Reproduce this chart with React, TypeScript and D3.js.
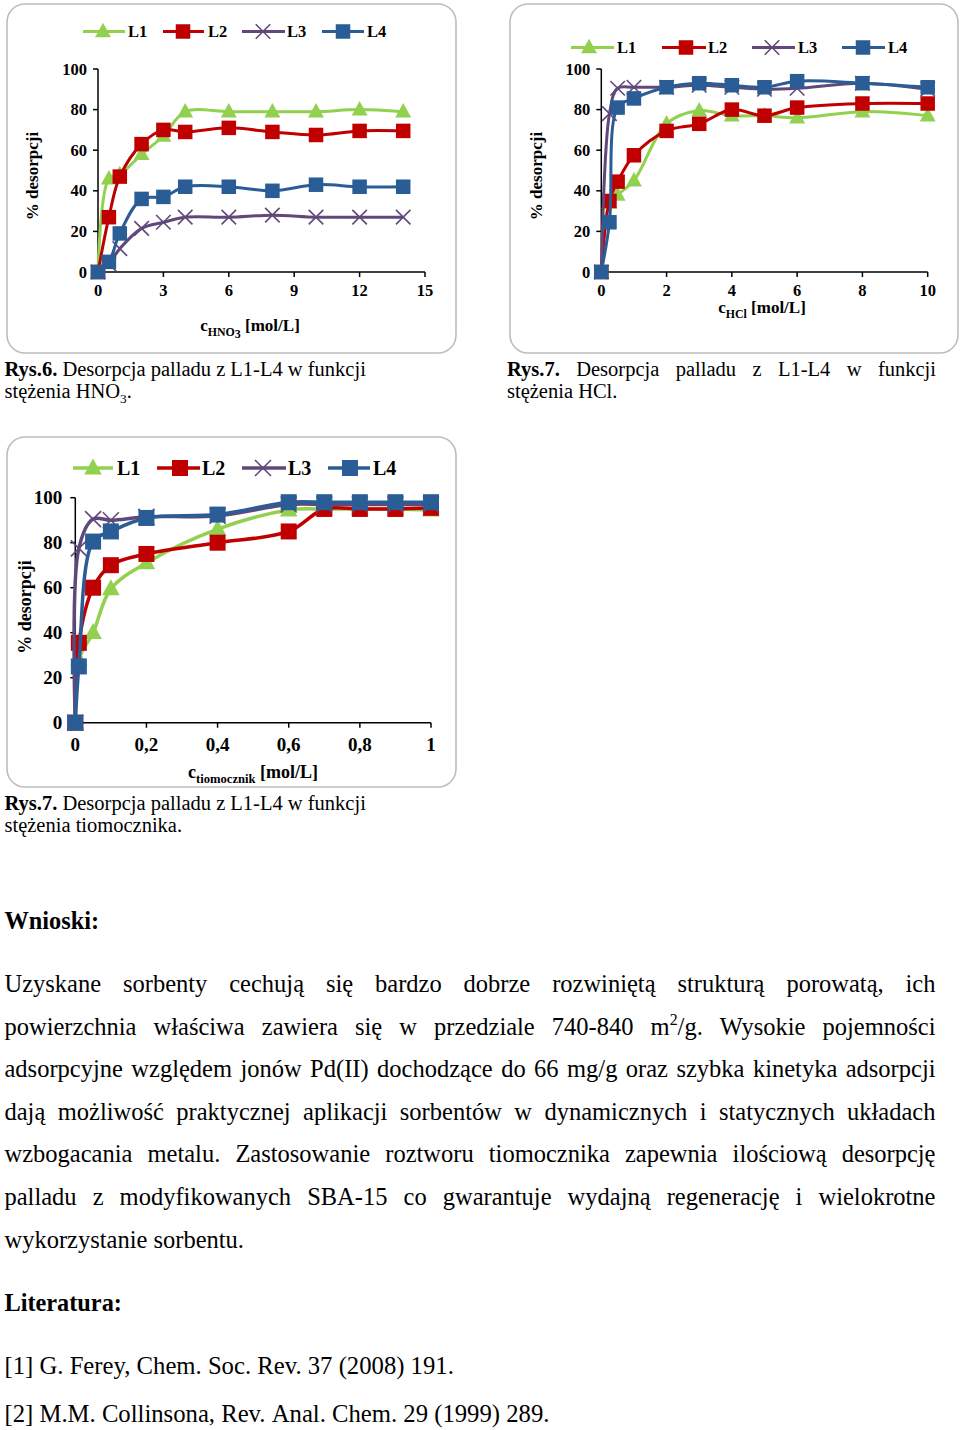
import React from 'react';
import * as d3 from 'd3';

const FONT = "'Liberation Serif', 'Times New Roman', serif";

// ---------- DATA ----------
const seriesNames = ['L1', 'L2', 'L3', 'L4'];
const seriesColors = ['#92D050', '#C00000', '#60497A', '#2A5D96'];
const seriesMarkers = ['triangle', 'square', 'x', 'square'];
const yTicks = [0, 20, 40, 60, 80, 100];

// Rys.6 – HNO3
const hno3X = [0, 0.5, 1, 2, 3, 4, 6, 8, 10, 12, 14];
const hno3L1 = [0, 46, 48, 58, 67, 79, 79, 79, 79, 80, 79];
const hno3L2 = [0, 27, 47, 63, 70, 69, 71, 69, 67.5, 69.5, 69.5];
const hno3L3 = [0, 4, 11.5, 21.5, 24.5, 27, 27, 28, 27, 27, 27];
const hno3L4 = [0, 5, 19, 36, 37, 42, 42, 40, 43, 42, 42];
const hno3Ticks = [0, 3, 6, 9, 12, 15];

// Rys.7 – HCl
const hclX = [0, 0.25, 0.5, 1, 2, 3, 4, 5, 6, 8, 10];
const hclL1 = [0, 34, 38, 45, 73, 79.5, 77, 77, 76, 79, 77];
const hclL2 = [0, 35, 44.5, 57.5, 69.5, 73, 80, 77, 81, 83, 83];
const hclL3 = [0, 78, 90.5, 91, 91, 92, 91, 90, 90.5, 93, 90];
const hclL4 = [0, 24.5, 81, 85.5, 91, 93, 92, 91, 94, 93, 91];
const hclTicks = [0, 2, 4, 6, 8, 10];

// Rys.7 – tiomocznik
const tioX = [0, 0.01, 0.05, 0.1, 0.2, 0.4, 0.6, 0.7, 0.8, 0.9, 1.0];
const tioL1 = [0, 28, 40, 59.5, 71, 86, 94.5, 95, 95, 95, 94.5];
const tioL2 = [0, 35.5, 60, 70, 75, 80, 85, 95, 95, 95, 95.5];
const tioL3 = [0, 77.5, 90.5, 90, 91.5, 92, 97, 97, 97, 97, 97];
const tioL4 = [0, 25, 80.5, 85, 91, 92.5, 98, 98, 98, 98, 98];
const tioTicks = [0, 0.2, 0.4, 0.6, 0.8, 1];

// ---------- TEXT ----------
const caption1 = ['**Rys.6.** Desorpcja palladu z L1-L4 w funkcji', 'stężenia HNO_{3}.'];
const caption2 = ['**Rys.7.** Desorpcja palladu z L1-L4 w funkcji', 'stężenia HCl.'];
const caption3 = ['**Rys.7.** Desorpcja palladu z L1-L4 w funkcji', 'stężenia tiomocznika.'];
const paragraph = [
  'Uzyskane sorbenty cechują się bardzo dobrze rozwiniętą strukturą porowatą, ich',
  'powierzchnia właściwa zawiera się w przedziale 740-840 m^{2}/g. Wysokie pojemności',
  'adsorpcyjne względem jonów Pd(II) dochodzące do 66 mg/g oraz szybka kinetyka adsorpcji',
  'dają możliwość praktycznej aplikacji sorbentów w dynamicznych i statycznych układach',
  'wzbogacania metalu. Zastosowanie roztworu tiomocznika zapewnia ilościową desorpcję',
  'palladu z modyfikowanych SBA-15 co gwarantuje wydajną regenerację i wielokrotne',
  'wykorzystanie sorbentu.',
];
const references = [
  '[1] G. Ferey, Chem. Soc. Rev. 37 (2008) 191.',
  '[2] M.M. Collinsona, Rev. Anal. Chem. 29 (1999) 289.',
];

// ---------- TEXT HELPERS ----------
let _ctx: CanvasRenderingContext2D | null = null;
function measure(text: string, size: number, bold: boolean) {
  if (!_ctx) _ctx = document.createElement('canvas').getContext('2d');
  _ctx!.font = `${bold ? 'bold ' : ''}${size}px 'Liberation Serif'`;
  return _ctx!.measureText(text).width;
}
type Seg = { t: string; b: boolean; kind: 'n' | 'sup' | 'sub' };
function parseWord(w0: string): Seg[] {
  let w = w0;
  let bold = false;
  if (w.startsWith('**') && w.endsWith('**')) {
    bold = true;
    w = w.slice(2, -2);
  }
  const segs: Seg[] = [];
  const re = /(\^\{[^}]*\}|_\{[^}]*\})/g;
  let last = 0;
  let m: RegExpExecArray | null;
  while ((m = re.exec(w))) {
    if (m.index > last) segs.push({ t: w.slice(last, m.index), b: bold, kind: 'n' });
    segs.push({ t: m[0].slice(2, -1), b: bold, kind: m[0][0] === '^' ? 'sup' : 'sub' });
    last = m.index + m[0].length;
  }
  if (last < w.length) segs.push({ t: w.slice(last), b: bold, kind: 'n' });
  return segs;
}

function TextLine(props: { text: string; x: number; y: number; size: number; width?: number; justify?: boolean }) {
  const { text, x, y, size, width = 0, justify = false } = props;
  const words = text.split(' ').map(parseWord);
  const segSize = (s: Seg) => (s.kind === 'n' ? size : size * 0.65);
  const segDy = (s: Seg) => (s.kind === 'sup' ? -size * 0.38 : s.kind === 'sub' ? size * 0.22 : 0);
  const widths = words.map((ws) => ws.reduce((a, s) => a + measure(s.t, segSize(s), s.b), 0));
  const total = widths.reduce((a, b) => a + b, 0);
  const gap = justify && words.length > 1 ? (width - total) / (words.length - 1) : measure(' ', size, false);
  const els: React.ReactNode[] = [];
  let cx = x;
  words.forEach((ws, i) => {
    ws.forEach((s, j) => {
      els.push(
        <text key={`${i}-${j}`} x={cx} y={y + segDy(s)} fontSize={segSize(s)} fontWeight={s.b ? 'bold' : 'normal'} fontFamily={FONT} fill="#000">
          {s.t}
        </text>
      );
      cx += measure(s.t, segSize(s), s.b);
    });
    cx += gap;
  });
  return <g>{els}</g>;
}

// ---------- MARKERS ----------
function Marker(props: { kind: string; cx: number; cy: number; s: number; color: string }) {
  const { kind, cx, cy, s, color } = props;
  if (kind === 'square') {
    return <rect x={cx - s / 2} y={cy - s / 2} width={s} height={s} fill={color} />;
  }
  if (kind === 'triangle') {
    const h = s * 1.0;
    return <path d={`M${cx},${cy - h * 0.6}L${cx - s * 0.55},${cy + h * 0.4}L${cx + s * 0.55},${cy + h * 0.4}Z`} fill={color} />;
  }
  const r = s / 2;
  return (
    <g stroke={color} strokeWidth={1.6}>
      <line x1={cx - r} y1={cy - r} x2={cx + r} y2={cy + r} />
      <line x1={cx - r} y1={cy + r} x2={cx + r} y2={cy - r} />
    </g>
  );
}

// ---------- CHART ----------
type LegendItem = { x1: number; x2: number; m: number; t: number };
type ChartProps = {
  frame: { x: number; y: number; w: number; h: number };
  plot: { left: number; right: number; top: number; bottom: number };
  xDomain: [number, number];
  xTicks: number[];
  xs: number[];
  series: number[][];
  tickFont: number;
  tickLabelDy: number;
  yLabelGap: number;
  legendY: number;
  legendFont: number;
  legend: LegendItem[];
  yTitle: { x: number; cy: number; size: number };
  xTitle: { cx: number; y: number; size: number; sub: string; subsub?: string };
  markerSize: number;
  lineWidth: number;
};

const fmtComma = (d: number) => String(d).replace('.', ',');

function Chart(p: ChartProps) {
  const x = d3.scaleLinear().domain(p.xDomain).range([p.plot.left, p.plot.right]);
  const y = d3.scaleLinear().domain([0, 100]).range([p.plot.bottom, p.plot.top]);
  const line = d3
    .line<[number, number]>()
    .x((d) => x(d[0]))
    .y((d) => y(d[1]))
    .curve(d3.curveCatmullRom.alpha(0.5));
  const f = p.xTitle.size;
  return (
    <g fontFamily={FONT}>
      <rect x={p.frame.x} y={p.frame.y} width={p.frame.w} height={p.frame.h} rx={18} ry={18} fill="#fff" stroke="#BDBDBD" strokeWidth={1.6} />
      {/* axes */}
      <line x1={p.plot.left} y1={p.plot.top} x2={p.plot.left} y2={p.plot.bottom} stroke="#000" strokeWidth={1.5} />
      <line x1={p.plot.left} y1={p.plot.bottom} x2={p.plot.right} y2={p.plot.bottom} stroke="#000" strokeWidth={1.5} />
      {yTicks.map((t) => (
        <g key={`y${t}`}>
          <line x1={p.plot.left - 5} x2={p.plot.left} y1={y(t)} y2={y(t)} stroke="#000" strokeWidth={1.5} />
          <text x={p.plot.left - p.yLabelGap} y={y(t) + p.tickFont * 0.34} textAnchor="end" fontWeight="bold" fontSize={p.tickFont}>
            {t}
          </text>
        </g>
      ))}
      {p.xTicks.map((t) => (
        <g key={`x${t}`}>
          <line x1={x(t)} x2={x(t)} y1={p.plot.bottom} y2={p.plot.bottom + 5} stroke="#000" strokeWidth={1.5} />
          <text x={x(t)} y={p.plot.bottom + p.tickLabelDy} textAnchor="middle" fontWeight="bold" fontSize={p.tickFont}>
            {fmtComma(t)}
          </text>
        </g>
      ))}
      {/* series */}
      {p.series.map((vals, i) => {
        const pts = p.xs.map((xv, k) => [xv, vals[k]] as [number, number]);
        return (
          <g key={`s${i}`}>
            <path d={line(pts) || ''} fill="none" stroke={seriesColors[i]} strokeWidth={p.lineWidth} strokeLinejoin="round" />
            {pts.map((pt, k) => (
              <Marker key={k} kind={seriesMarkers[i]} cx={x(pt[0])} cy={y(pt[1])} s={p.markerSize} color={seriesColors[i]} />
            ))}
          </g>
        );
      })}
      {/* legend */}
      {p.legend.map((it, i) => (
        <g key={`l${i}`}>
          <line x1={it.x1} x2={it.x2} y1={p.legendY} y2={p.legendY} stroke={seriesColors[i]} strokeWidth={p.lineWidth} />
          <Marker kind={seriesMarkers[i]} cx={it.m} cy={p.legendY} s={p.markerSize} color={seriesColors[i]} />
          <text x={it.t} y={p.legendY + p.legendFont * 0.34} fontWeight="bold" fontSize={p.legendFont}>
            {seriesNames[i]}
          </text>
        </g>
      ))}
      {/* titles */}
      <text transform={`translate(${p.yTitle.x},${p.yTitle.cy}) rotate(-90)`} textAnchor="middle" fontWeight="bold" fontSize={p.yTitle.size}>
        % desorpcji
      </text>
      <text x={p.xTitle.cx} y={p.xTitle.y} textAnchor="middle" fontWeight="bold" fontSize={f} style={{ whiteSpace: 'pre' }}>
        <tspan>c</tspan>
        <tspan fontSize={f * 0.7} dy={f * 0.28}>
          {p.xTitle.sub}
        </tspan>
        {p.xTitle.subsub ? (
          <tspan fontSize={f * 0.7} dy={f * 0.12}>
            {p.xTitle.subsub}
          </tspan>
        ) : null}
        <tspan fontSize={f} dy={-(f * 0.28 + (p.xTitle.subsub ? f * 0.12 : 0))}>
          {' [mol/L]'}
        </tspan>
      </text>
    </g>
  );
}

export default function App() {
  const paraX = 4.5;
  const paraW = 931;
  const paraY0 = 992;
  const paraDy = 42.6;
  return (
    <svg width={960} height={1430} style={{ position: 'absolute', left: 0, top: 0, background: '#fff' }}>
      <rect x={0} y={0} width={960} height={1430} fill="#fff" />
      <Chart
        frame={{ x: 7, y: 4, w: 449, h: 349 }}
        plot={{ left: 98, right: 425, top: 69, bottom: 272 }}
        xDomain={[0, 15]}
        xTicks={hno3Ticks}
        xs={hno3X}
        series={[hno3L1, hno3L2, hno3L3, hno3L4]}
        tickFont={16.5}
        tickLabelDy={24}
        yLabelGap={11}
        legendY={31.5}
        legendFont={16.5}
        legend={[
          { x1: 83, x2: 125, m: 103, t: 128 },
          { x1: 163, x2: 204, m: 183, t: 208 },
          { x1: 242, x2: 285, m: 263, t: 287 },
          { x1: 322, x2: 364, m: 343, t: 367 },
        ]}
        yTitle={{ x: 38, cy: 176, size: 17 }}
        xTitle={{ cx: 250, y: 331, size: 17, sub: 'HNO', subsub: '3' }}
        markerSize={14.5}
        lineWidth={3}
      />
      <Chart
        frame={{ x: 510, y: 4, w: 448, h: 349 }}
        plot={{ left: 601.3, right: 927.7, top: 69, bottom: 272 }}
        xDomain={[0, 10]}
        xTicks={hclTicks}
        xs={hclX}
        series={[hclL1, hclL2, hclL3, hclL4]}
        tickFont={16.5}
        tickLabelDy={24}
        yLabelGap={11}
        legendY={47.5}
        legendFont={16.5}
        legend={[
          { x1: 571, x2: 614, m: 589, t: 617 },
          { x1: 662, x2: 706, m: 686, t: 708 },
          { x1: 752, x2: 795, m: 772, t: 798 },
          { x1: 842, x2: 885, m: 863, t: 888 },
        ]}
        yTitle={{ x: 542, cy: 176, size: 17 }}
        xTitle={{ cx: 762, y: 313, size: 17, sub: 'HCl' }}
        markerSize={14.5}
        lineWidth={3}
      />
      <Chart
        frame={{ x: 7, y: 437, w: 449, h: 350 }}
        plot={{ left: 75.3, right: 431, top: 497.7, bottom: 722.7 }}
        xDomain={[0, 1]}
        xTicks={tioTicks}
        xs={tioX}
        series={[tioL1, tioL2, tioL3, tioL4]}
        tickFont={19}
        tickLabelDy={28}
        yLabelGap={13}
        legendY={468}
        legendFont={20}
        legend={[
          { x1: 73, x2: 113, m: 93, t: 117 },
          { x1: 157, x2: 200, m: 180, t: 202 },
          { x1: 242, x2: 286, m: 263, t: 288 },
          { x1: 328, x2: 370, m: 350, t: 373 },
        ]}
        yTitle={{ x: 31, cy: 607, size: 18 }}
        xTitle={{ cx: 253, y: 778, size: 18, sub: 'tiomocznik' }}
        markerSize={16}
        lineWidth={3.5}
      />
      {/* captions */}
      <TextLine text={caption1[0]} x={4.5} y={376} size={20.5} />
      <TextLine text={caption1[1]} x={4.5} y={398} size={20.5} />
      <TextLine text={caption2[0]} x={507} y={376} size={20.5} width={429} justify />
      <TextLine text={caption2[1]} x={507} y={398} size={20.5} />
      <TextLine text={caption3[0]} x={4.5} y={810} size={20.5} />
      <TextLine text={caption3[1]} x={4.5} y={832} size={20.5} />
      {/* body */}
      <TextLine text={'**Wnioski:**'} x={4.5} y={929} size={24.3} />
      {paragraph.map((l, i) => (
        <TextLine key={i} text={l} x={paraX} y={paraY0 + i * paraDy} size={24.5} width={paraW} justify={i < paragraph.length - 1} />
      ))}
      <TextLine text={'**Literatura:**'} x={4.5} y={1311} size={24.3} />
      {references.map((r, i) => (
        <TextLine key={`r${i}`} text={r} x={4.5} y={1374 + i * 47.5} size={24.7} />
      ))}
    </svg>
  );
}
